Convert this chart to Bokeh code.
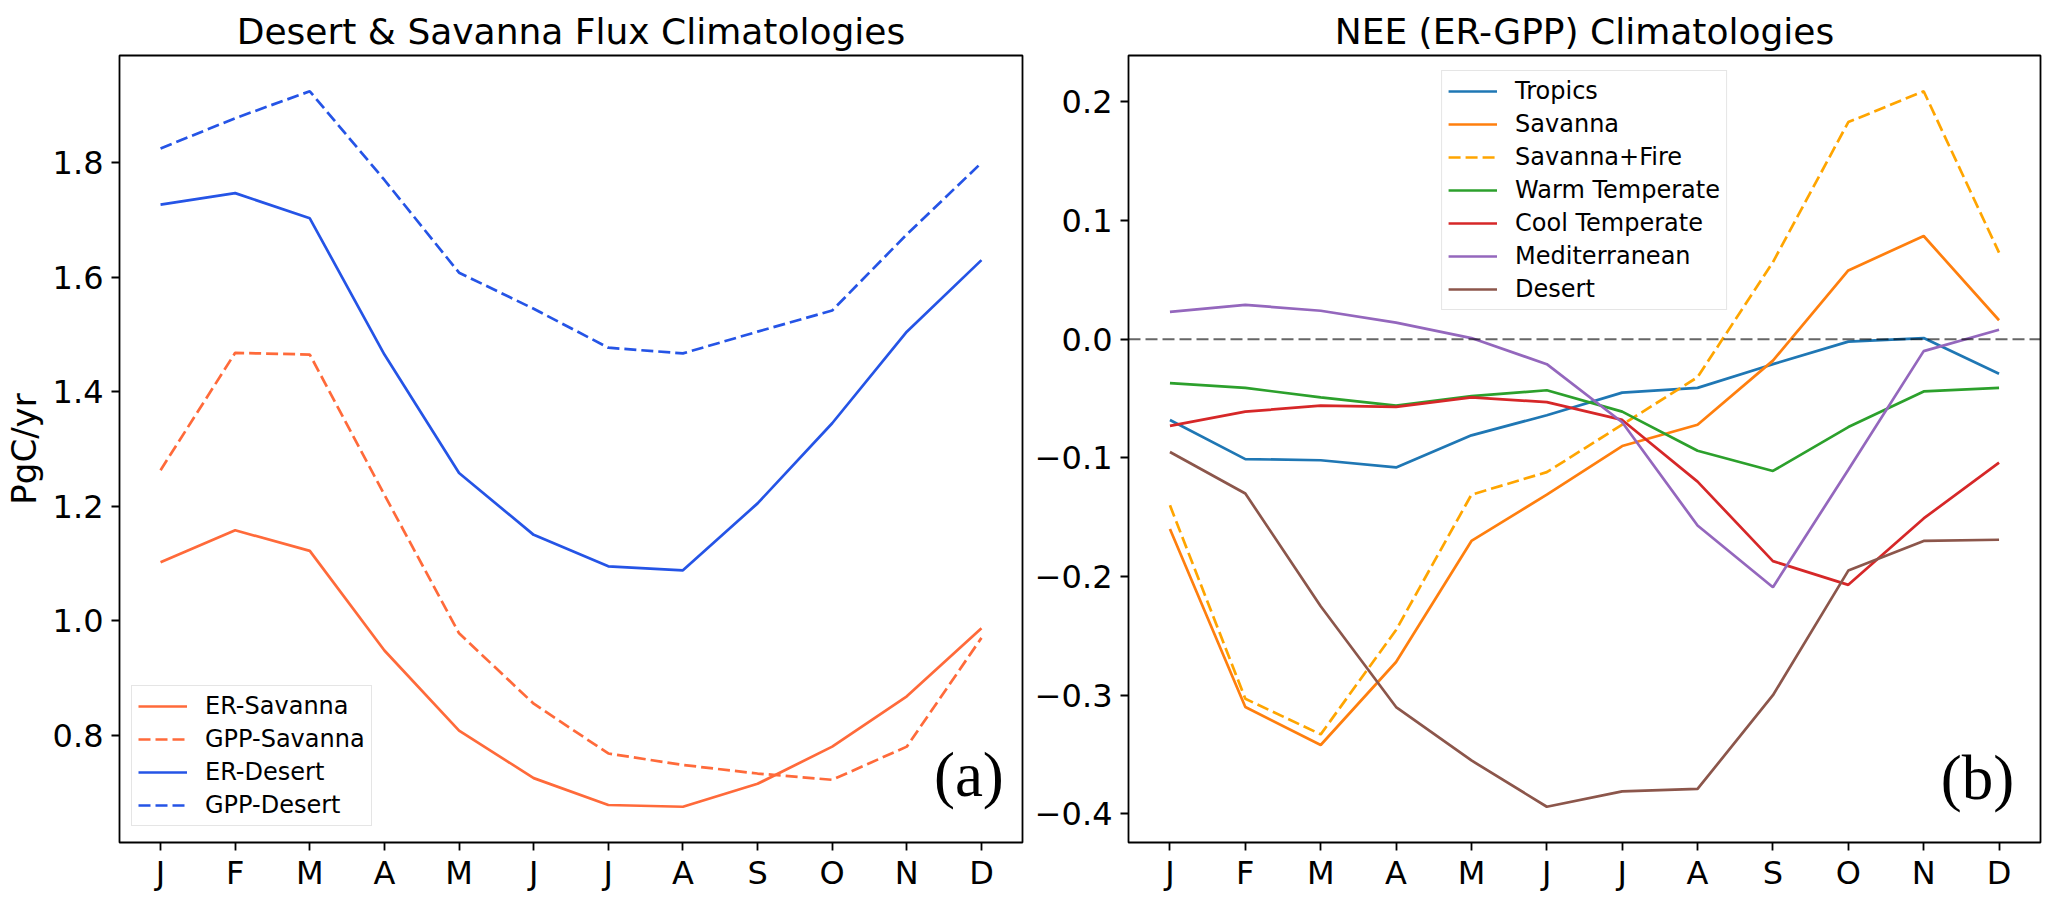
from bokeh.plotting import figure
from bokeh.layouts import row
from bokeh.models import Range1d, FixedTicker, Legend, LegendItem, Label, Span
from bokeh.embed import file_html
from bokeh.resources import INLINE

months = ["J", "F", "M", "A", "M", "J", "J", "A", "S", "O", "N", "D"]

# Panel (a) values, PgC/yr
er_savanna = [1.102, 1.158, 1.122, 0.948, 0.808, 0.725, 0.678, 0.675, 0.715, 0.780, 0.868, 0.987]
gpp_savanna = [1.263, 1.468, 1.465, 1.220, 0.978, 0.855, 0.768, 0.748, 0.733, 0.722, 0.780, 0.970]
er_desert = [1.727, 1.747, 1.703, 1.465, 1.258, 1.150, 1.095, 1.088, 1.205, 1.345, 1.505, 1.630]
gpp_desert = [1.825, 1.878, 1.925, 1.770, 1.608, 1.545, 1.477, 1.467, 1.505, 1.542, 1.675, 1.800]

left_ticks = [0.8, 1.0, 1.2, 1.4, 1.6, 1.8]
left_tick_labels = ["0.8", "1.0", "1.2", "1.4", "1.6", "1.8"]

# Panel (b) NEE values
tropics = [-0.068, -0.101, -0.102, -0.108, -0.081, -0.064, -0.045, -0.041, -0.021, -0.002, 0.001, -0.029]
savanna = [-0.160, -0.310, -0.342, -0.272, -0.170, -0.131, -0.090, -0.072, -0.018, 0.058, 0.087, 0.016]
savanna_fire = [-0.140, -0.303, -0.333, -0.245, -0.131, -0.112, -0.072, -0.032, 0.065, 0.183, 0.209, 0.073]
warm_temperate = [-0.037, -0.041, -0.049, -0.056, -0.048, -0.043, -0.061, -0.094, -0.111, -0.074, -0.044, -0.041]
cool_temperate = [-0.073, -0.061, -0.056, -0.057, -0.049, -0.053, -0.068, -0.120, -0.187, -0.207, -0.151, -0.104]
mediterranean = [0.023, 0.029, 0.024, 0.014, 0.001, -0.021, -0.070, -0.157, -0.209, -0.110, -0.010, 0.008]
desert = [-0.095, -0.130, -0.225, -0.310, -0.355, -0.394, -0.381, -0.379, -0.300, -0.195, -0.170, -0.169]

right_ticks = [-0.4, -0.3, -0.2, -0.1, 0.0, 0.1, 0.2]
right_tick_labels = ["\u22120.4", "\u22120.3", "\u22120.2", "\u22120.1", "0.0", "0.1", "0.2"]

x = list(range(len(months)))
FONT = "DejaVu Sans"
LW = 2.7
DASH = "12 5"


def style(p, yticks, ylabels):
    p.xaxis.ticker = FixedTicker(ticks=x)
    p.xaxis.major_label_overrides = {i: m for i, m in enumerate(months)}
    p.yaxis.ticker = FixedTicker(ticks=yticks)
    p.yaxis.major_label_overrides = {t: l for t, l in zip(yticks, ylabels)}
    for ax in (p.xaxis[0], p.yaxis[0]):
        ax.major_label_text_font = FONT
        ax.major_label_text_font_size = "32px"
        ax.major_label_text_color = "black"
        ax.major_tick_out = 8
        ax.major_tick_in = 0
        ax.major_tick_line_width = 1.8
        ax.major_tick_line_color = "black"
        ax.minor_tick_line_color = None
        ax.axis_line_color = None
        ax.major_label_standoff = 8
    p.xaxis[0].major_label_standoff = 3
    p.xgrid.grid_line_color = None
    p.ygrid.grid_line_color = None
    p.outline_line_color = "black"
    p.outline_line_width = 1.8
    p.outline_line_alpha = 1.0
    p.title.text_font = FONT
    p.title.text_font_size = "36px"
    p.title.text_font_style = "normal"
    p.title.text_color = "black"
    p.title.align = "center"
    p.title.standoff = 7


# ---------- Panel (a)
p1 = figure(width=1026, height=894, output_backend="svg", toolbar_location=None,
            x_range=Range1d(-0.55, 11.55), y_range=Range1d(0.6125, 1.9875),
            title="Desert & Savanna Flux Climatologies",
            min_border_left=109, min_border_right=4, min_border_top=55, min_border_bottom=50)
style(p1, left_ticks, left_tick_labels)
p1.yaxis.axis_label = "PgC/yr"
p1.yaxis.axis_label_text_font = FONT
p1.yaxis.axis_label_text_font_size = "34px"
p1.yaxis.axis_label_text_font_style = "normal"
p1.yaxis.axis_label_text_color = "black"
p1.yaxis.axis_label_standoff = 6

c_sav = "#ff6a3a"
c_des = "#2554e6"
r1 = p1.line(x, er_savanna, line_color=c_sav, line_width=LW)
r2 = p1.line(x, gpp_savanna, line_color=c_sav, line_width=LW, line_dash=DASH)
r3 = p1.line(x, er_desert, line_color=c_des, line_width=LW)
r4 = p1.line(x, gpp_desert, line_color=c_des, line_width=LW, line_dash=DASH)

leg1 = Legend(items=[LegendItem(label="ER-Savanna", renderers=[r1]),
                     LegendItem(label="GPP-Savanna", renderers=[r2]),
                     LegendItem(label="ER-Desert", renderers=[r3]),
                     LegendItem(label="GPP-Desert", renderers=[r4])],
              location=(12, 16))


def style_legend(lg):
    lg.label_text_font = FONT
    lg.label_text_font_size = "24px"
    lg.label_text_color = "black"
    lg.glyph_width = 49
    lg.glyph_height = 26
    lg.label_height = 26
    lg.label_standoff = 18
    lg.padding = 6
    lg.spacing = 5
    lg.margin = 0
    lg.border_line_color = "#cccccc"
    lg.border_line_width = 1.5
    lg.background_fill_alpha = 0.8


style_legend(leg1)
p1.add_layout(leg1, "center")
p1.add_layout(Label(x=11.3, y=0.67, text="(a)", text_align="right", text_baseline="bottom",
                    text_font="Liberation Serif", text_font_size="63px", text_color="black"))

# ---------- Panel (b)
p2 = figure(width=1025, height=894, output_backend="svg", toolbar_location=None,
            x_range=Range1d(-0.55, 11.55), y_range=Range1d(-0.42415, 0.23915),
            title="NEE (ER-GPP) Climatologies",
            min_border_left=102, min_border_right=11, min_border_top=55, min_border_bottom=50)
style(p2, right_ticks, right_tick_labels)

p2.add_layout(Span(location=0, dimension="width", line_color="black", line_alpha=0.6,
                   line_width=2.2, line_dash=DASH))

series = [("Tropics", tropics, "#1f77b4", None),
          ("Savanna", savanna, "#ff7f0e", None),
          ("Savanna+Fire", savanna_fire, "#ffa500", DASH),
          ("Warm Temperate", warm_temperate, "#2ca02c", None),
          ("Cool Temperate", cool_temperate, "#d62728", None),
          ("Mediterranean", mediterranean, "#9467bd", None),
          ("Desert", desert, "#8c564b", None)]
items = []
for name, vals, col, dash in series:
    if dash:
        r = p2.line(x, vals, line_color=col, line_width=LW, line_dash=dash)
    else:
        r = p2.line(x, vals, line_color=col, line_width=LW)
    items.append(LegendItem(label=name, renderers=[r]))

leg2 = Legend(items=items, location="top_center")
style_legend(leg2)
leg2.margin = 15
p2.add_layout(leg2, "center")
p2.add_layout(Label(x=11.2, y=-0.399, text="(b)", text_align="right", text_baseline="bottom",
                    text_font="Liberation Serif", text_font_size="63px", text_color="black"))

layout = row(p1, p2)
open("out.html", "w").write(file_html(layout, INLINE))
